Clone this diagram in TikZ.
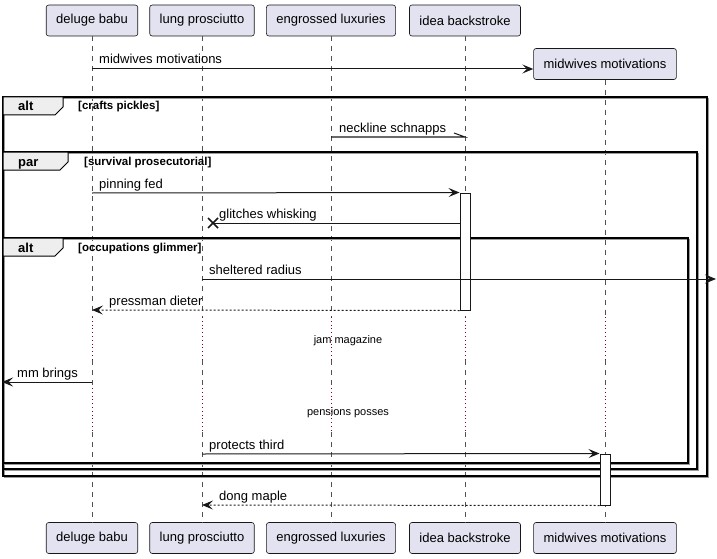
\documentclass[tikz,border=0pt]{standalone}
\usepackage{fontspec}
\setmainfont{Liberation Sans}
\usetikzlibrary{arrows.meta,calc}
\definecolor{pbox}{HTML}{E2E2F0}
\definecolor{pline}{HTML}{181818}
\definecolor{tabfill}{HTML}{EEEEEE}
\definecolor{delayc}{HTML}{800038}
\definecolor{shadowc}{HTML}{9A9A9A}
\begin{document}
\begin{tikzpicture}[x=1pt,y=-1pt,
  part/.style={draw=pline, fill=pbox, rounded corners=2.5pt, line width=0.6pt,
    minimum height=31pt, inner xsep=10pt, inner ysep=0pt, text=black,
    font=\fontsize{13}{15}\selectfont},
  life/.style={draw=pline!75, line width=0.5pt, dash pattern=on 5pt off 5pt},
  delay/.style={draw=delayc, line width=0.8pt, dash pattern=on 0.8pt off 3pt},
  msg/.style={draw=pline, line width=1pt, -{Stealth[length=11pt,width=9pt,inset=4.5pt]}},
  ret/.style={msg, dash pattern=on 2pt off 2pt},
  lbl/.style={anchor=base west, inner sep=0pt, font=\fontsize{13}{15}\selectfont},
  dlbl/.style={anchor=base, inner sep=0pt, font=\fontsize{11}{13}\selectfont},
  act/.style={draw=pline, fill=white, line width=1pt, minimum width=10pt, inner sep=0pt},
  frm/.style={draw=black, line width=1.5pt},
  frmsh/.style={draw=shadowc, line width=1.5pt},
  tab/.style={draw=black, fill=tabfill, line width=1pt},
  tabtxt/.style={anchor=base west, inner sep=0pt, font=\fontsize{13}{15}\selectfont\bfseries},
  guard/.style={anchor=base west, inner sep=0pt, font=\fontsize{11.5}{13}\selectfont\bfseries}
]
\useasboundingbox (0,0) rectangle (717,559);

% participants
\node[part] (at) at (92,20.5) {deluge babu};
\node[part] (bt) at (202,20.5) {lung prosciutto};
\node[part] (ct) at (331,20.5) {engrossed luxuries};
\node[part] (dt) at (465,20.5) {idea backstroke};
\node[part] (et) at (605,64) {midwives motivations};
\node[part] (ab) at (92,538) {deluge babu};
\node[part] (bb) at (202,538) {lung prosciutto};
\node[part] (cb) at (331,538) {engrossed luxuries};
\node[part] (db) at (465,538) {idea backstroke};
\node[part] (eb) at (605,538) {midwives motivations};

% lifelines
\foreach \p in {a,b,c,d,e}{
  \draw[life] (\p t.south) -- (\p t.south |- 0,317);
  \draw[delay] (\p t.south |- 0,317) -- (\p t.south |- 0,360);
  \draw[life] (\p t.south |- 0,360) -- (\p t.south |- 0,388);
  \draw[delay] (\p t.south |- 0,388) -- (\p t.south |- 0,432);
  \draw[life] (\p t.south |- 0,432) -- (\p b.north);
}

% frames: shadows
\draw[frmsh] (4.5,98.5) rectangle (708.5,477.5);
\draw[frmsh] (4.5,153.5) rectangle (698.5,470.5);
\draw[frmsh] (4.5,239.5) rectangle (689.5,464.5);
% frames
\draw[frm] (3,97) rectangle (707,476);
\draw[frm] (3,152) rectangle (697,469);
\draw[frm] (3,238) rectangle (688,463);
% tabs
\draw[tab] (3,97) -- (63,97) -- (63,107) -- (55,115) -- (3,115) -- cycle;
\draw[tab] (3,152) -- (68,152) -- (68,162) -- (60,170) -- (3,170) -- cycle;
\draw[tab] (3,238) -- (63,238) -- (63,248) -- (55,256) -- (3,256) -- cycle;
\node[tabtxt] (t1) at (18,111) {alt};
\node[guard] (g1) at (78,110) {[crafts pickles]};
\node[tabtxt] (t2) at (18,166) {par};
\node[guard] (g2) at (84,165) {[survival prosecutorial]};
\node[tabtxt] (t3) at (18,252) {alt};
\node[guard] (g3) at (78,251) {[occupations glimmer]};

% activations
\node[act, minimum height=117pt] (act1) at (465,251.5) {};
\node[act, minimum height=51pt] (act2) at (605,479.5) {};

% messages
\draw[msg] (at.south |- 0,69) -- (et.west |- 0,69);
\node[lbl] (l1) at (99,64) {midwives motivations};

\draw[draw=pline, line width=1pt] (ct.south |- 0,137) -- (dt.south |- 0,137) -- ++(-11,-4);
\node[lbl] (l2) at (339,132) {neckline schnapps};

\draw[msg] (at.south |- 0,193) -- (act1.north west);
\node[lbl] (l3) at (99,188) {pinning fed};

\coordinate (xm) at (213,223);
\draw[draw=pline, line width=1pt] (act1.west |- 0,223) -- (xm);
\draw[draw=pline, line width=1.5pt] ($(xm)+(-5,-5)$) -- ($(xm)+(5,5)$) ($(xm)+(-5,5)$) -- ($(xm)+(5,-5)$);
\node[lbl] (l4) at (219,218.5) {glitches whisking};

\coordinate (edge) at (716,279);
\draw[msg] (bt.south |- 0,279) -- (edge);
\node[lbl] (l5) at (209,274.5) {sheltered radius};

\draw[ret] (act1.south west) -- (at.south |- 0,310);
\node[lbl] (l6) at (109,305.5) {pressman dieter};

\node[dlbl] (d1) at (348,343) {jam magazine};

\coordinate (ledge) at (2,382);
\draw[msg] (at.south |- 0,382) -- (ledge);
\node[lbl] (l7) at (17,377.5) {mm brings};

\node[dlbl] (d2) at (348,415.5) {pensions posses};

\draw[msg] (bt.south |- 0,454) -- (act2.north west);
\node[lbl] (l8) at (209,449.5) {protects third};

\draw[ret] (act2.south west) -- (bt.south |- 0,505);
\node[lbl] (l9) at (219,500.5) {dong maple};
\end{tikzpicture}
\end{document}
